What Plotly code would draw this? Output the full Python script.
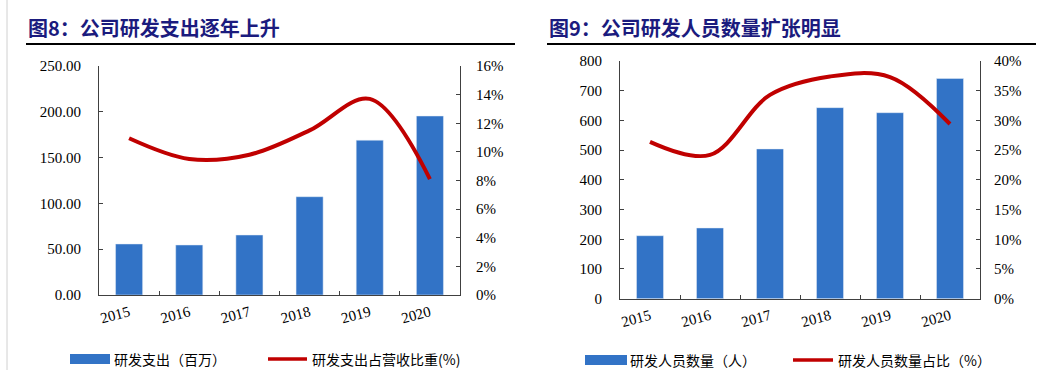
import plotly.graph_objects as go

years = ["2015", "2016", "2017", "2018", "2019", "2020"]
rd_expense = [55.7, 54.6, 65.5, 107.3, 169.0, 195.4]
rd_ratio = [10.95, 9.5, 9.8, 11.5, 13.7, 8.1]
rd_staff = [212, 238, 504, 643, 626, 741]
rd_staff_ratio = [26.4, 24.2, 34.3, 37.4, 37.3, 29.4]

title_left = "图8：公司研发支出逐年上升"
title_right = "图9：公司研发人员数量扩张明显"
leg_bar_left = "研发支出（百万）"
leg_line_left = "研发支出占营收比重(%)"
leg_bar_right = "研发人员数量（人）"
leg_line_right = "研发人员数量占比（%）"

BAR = "#3273C6"
RED = "#C00000"
NAVY = "#1B1B7E"
AX = "#404040"
SERIF = "Liberation Serif, Times New Roman, serif"
CJK = "Noto Sans CJK SC"

W, H = 1052, 370
def px(x): return x / W
def py(y): return (H - y) / H

fig = go.Figure()
fig.add_trace(go.Bar(x=years, y=rd_expense, marker_color=BAR, width=0.45,
                     xaxis="x", yaxis="y", showlegend=False))
fig.add_trace(go.Scatter(x=years, y=rd_ratio, mode="lines", line=dict(color=RED, width=4, shape="spline", smoothing=1.0),
                         xaxis="x", yaxis="y2", showlegend=False))
fig.add_trace(go.Bar(x=years, y=rd_staff, marker_color=BAR, width=0.45,
                     xaxis="x2", yaxis="y3", showlegend=False))
fig.add_trace(go.Scatter(x=years, y=rd_staff_ratio, mode="lines", line=dict(color=RED, width=4, shape="spline", smoothing=1.0),
                         xaxis="x2", yaxis="y4", showlegend=False))

tickfont = dict(family=SERIF, size=15, color="#000000")
common_y = dict(showgrid=False, zeroline=False, showline=True, linecolor=AX, linewidth=1, automargin=False,
                ticks="inside", ticklen=4, tickcolor=AX, tickfont=tickfont)
common_x = dict(showgrid=False, zeroline=False, showline=True, linecolor=AX, linewidth=1, automargin=False,
                ticks="inside", ticklen=4, tickcolor=AX, tickson="boundaries",
                tickangle=-15, tickfont=tickfont, ticklabelstandoff=2)

L = dict(x0=px(99), x1=px(460), y0=py(295), y1=py(66))
R = dict(x0=px(620), x1=px(980), y0=py(298.7), y1=py(61))

fig.update_layout(
    width=W, height=H, autosize=False, margin=dict(l=0, r=0, t=0, b=0, pad=0),
    paper_bgcolor="white", plot_bgcolor="white", showlegend=False,
    xaxis=dict(domain=[L["x0"], L["x1"]], anchor="y", **common_x),
    yaxis=dict(domain=[L["y0"], L["y1"]], anchor="x", range=[0, 250], dtick=50,
               tickformat=".2f", ticklabelstandoff=14, **common_y),
    yaxis2=dict(overlaying="y", side="right", anchor="x", range=[0, 16], dtick=2,
                ticksuffix="%", ticklabelstandoff=12, **common_y),
    xaxis2=dict(domain=[R["x0"], R["x1"]], anchor="y3", **common_x),
    yaxis3=dict(domain=[R["y0"], R["y1"]], anchor="x2", range=[0, 800], dtick=100,
                ticklabelstandoff=14, **common_y),
    yaxis4=dict(overlaying="y3", side="right", anchor="x2", range=[0, 40], dtick=5,
                ticksuffix="%", ticklabelstandoff=10, **common_y),
)

shapes = [
    dict(type="line", xref="paper", yref="paper", x0=px(26), x1=px(515), y0=py(44), y1=py(44),
         line=dict(color="#000000", width=2)),
    dict(type="line", xref="paper", yref="paper", x0=px(547), x1=px(1036), y0=py(44), y1=py(44),
         line=dict(color="#000000", width=2)),
    dict(type="line", xref="paper", yref="paper", x0=px(7), x1=px(7), y0=0, y1=1,
         line=dict(color="#D0D0D0", width=1)),
    # legend swatches
    dict(type="rect", xref="paper", yref="paper", x0=px(70), x1=px(110), y0=py(364), y1=py(354),
         fillcolor=BAR, line=dict(width=0)),
    dict(type="line", xref="paper", yref="paper", x0=px(268), x1=px(307), y0=py(359), y1=py(359),
         line=dict(color=RED, width=3.5)),
    dict(type="rect", xref="paper", yref="paper", x0=px(585), x1=px(627), y0=py(365), y1=py(355),
         fillcolor=BAR, line=dict(width=0)),
    dict(type="line", xref="paper", yref="paper", x0=px(793), x1=px(833), y0=py(360), y1=py(360),
         line=dict(color=RED, width=3.5)),
]
fig.update_layout(shapes=shapes)

ann = [
    dict(text="<b>" + title_left + "</b>", x=px(26), y=py(27), xanchor="left", yanchor="middle",
         font=dict(family=CJK, size=20, color=NAVY)),
    dict(text="<b>" + title_right + "</b>", x=px(547), y=py(27), xanchor="left", yanchor="middle",
         font=dict(family=CJK, size=20, color=NAVY)),
    dict(text=leg_bar_left, x=px(112), y=py(359), xanchor="left", yanchor="middle",
         font=dict(family=CJK, size=14, color="#000000")),
    dict(text=leg_line_left, x=px(310), y=py(359), xanchor="left", yanchor="middle",
         font=dict(family=CJK, size=14, color="#000000")),
    dict(text=leg_bar_right, x=px(628), y=py(360), xanchor="left", yanchor="middle",
         font=dict(family=CJK, size=14, color="#000000")),
    dict(text=leg_line_right, x=px(836), y=py(360), xanchor="left", yanchor="middle",
         font=dict(family=CJK, size=14, color="#000000")),
]
for a in ann:
    a.update(xref="paper", yref="paper", showarrow=False)
fig.update_layout(annotations=ann)

fig.write_html("out.html", config={"displayModeBar": False},
               post_script="document.body.style.margin='0';document.body.style.overflow='hidden';")
